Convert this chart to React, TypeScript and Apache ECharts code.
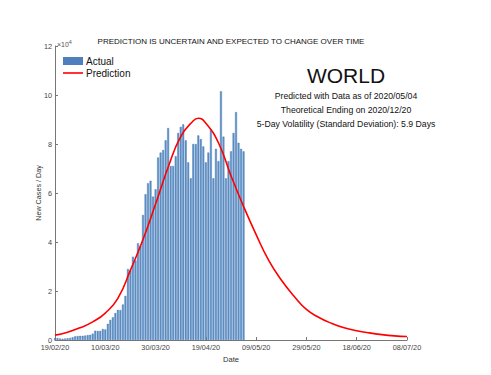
import React, { useEffect, useRef } from "react";
import * as echarts from "echarts";

// X axis: days since 19/02/20, one tick every 20 days
const xTickLabels = ["19/02/20", "10/03/20", "30/03/20", "19/04/20", "09/05/20", "29/05/20", "18/06/20", "08/07/20"];
const xTickStepDays = 20;
const yTickLabels = ["0", "2", "4", "6", "8", "10", "12"];

// Actual new cases per day (units of 10^4), day 0 = 19/02/20 ... day 75 = 04/05/20
const actualCasesE4 = [
  0.08, 0.08, 0.06, 0.05, 0.06, 0.07, 0.08, 0.11, 0.15, 0.16,
  0.17, 0.17, 0.18, 0.2, 0.21, 0.26, 0.38, 0.37, 0.37, 0.45,
  0.43, 0.66, 0.82, 0.93, 1.1, 1.23, 1.22, 1.45, 1.8, 2.9,
  2.85, 3.4, 3.25, 3.95, 3.85, 5.1, 5.95, 6.4, 6.5, 5.85,
  6.15, 7.45, 7.65, 7.75, 8.15, 8.65, 7.1, 7.1, 7.5, 8.45,
  8.7, 8.8, 8.15, 7.25, 6.6, 8.0, 8.0, 8.35, 8.2, 7.9,
  7.25, 7.65, 8.6, 6.6, 7.8, 7.3, 10.15, 8.3, 6.6, 7.3,
  7.7, 8.45, 9.3, 8.05, 7.8, 7.7,
];

// Prediction curve (days since 19/02/20, units of 10^4)
const predictionDays = [0, 5, 10, 15, 20, 25, 30, 35, 40, 45, 50, 55, 57, 60, 65, 70, 75, 80, 85, 90, 95, 100, 105, 110, 115, 120, 125, 130, 135, 140];
const predictionCasesE4 = [0.2, 0.32, 0.5, 0.74, 1.1, 1.7, 2.85, 4.1, 5.55, 7.05, 8.3, 8.95, 9.05, 8.85, 8.05, 6.7, 5.45, 4.3, 3.25, 2.45, 1.8, 1.25, 0.92, 0.68, 0.5, 0.38, 0.29, 0.22, 0.17, 0.14];

const titleText = "PREDICTION IS UNCERTAIN AND EXPECTED TO CHANGE OVER TIME";
const regionName = "WORLD";
const infoLines = [
  "Predicted with Data as of 2020/05/04",
  "Theoretical Ending on 2020/12/20",
  "5-Day Volatility (Standard Deviation): 5.9 Days",
];

const FONT = "'Liberation Sans', Arial, Helvetica, sans-serif";

export default function App() {
  const ref = useRef<HTMLDivElement>(null);

  useEffect(() => {
    if (!ref.current) return;
    const chart = echarts.init(ref.current, null, { renderer: "svg" });

    const barData = actualCasesE4.map((v, i) => [i, v]);
    const lineData = predictionDays.map((d, i) => [d, predictionCasesE4[i]]);
    const xMax = (xTickLabels.length - 1) * xTickStepDays;
    const yMax = Number(yTickLabels[yTickLabels.length - 1]);

    chart.setOption({
      animation: false,
      backgroundColor: "#ffffff",
      textStyle: { fontFamily: FONT },
      grid: { left: 55, right: 84, top: 46, bottom: 35 },
      legend: {
        orient: "vertical",
        left: 63,
        top: 56,
        padding: 0,
        itemWidth: 20,
        itemHeight: 8,
        itemGap: 2,
        symbolKeepAspect: true,
        textStyle: { fontSize: 10, color: "#111", fontFamily: FONT, padding: [0, 0, 0, -2] },
        data: [
          { name: "Actual", icon: "rect", itemStyle: { borderWidth: 0, color: "#4f7fbc" } },
          { name: "Prediction", icon: "path://M0,0 L20,0 L20,1.6 L0,1.6 Z", itemStyle: { color: "#ff0000", borderWidth: 0 } },
        ],
      },
      xAxis: {
        type: "value",
        min: 0,
        max: xMax,
        interval: xTickStepDays,
        name: "Date",
        nameLocation: "middle",
        nameGap: 15,
        nameMoveOverlap: false,
        nameTextStyle: { fontSize: 7.6, color: "#333", fontFamily: FONT },
        axisLine: { show: true, lineStyle: { color: "#777", width: 1 } },
        axisTick: { show: true, inside: true, length: 3, lineStyle: { color: "#777" } },
        axisLabel: {
          fontSize: 7.3,
          color: "#444",
          margin: 4,
          fontFamily: FONT,
          formatter: (v: number) => xTickLabels[Math.round(v / xTickStepDays)] ?? "",
        },
        splitLine: { show: false },
      },
      yAxis: {
        type: "value",
        min: 0,
        max: yMax,
        interval: 2,
        name: "New Cases / Day",
        nameLocation: "middle",
        nameGap: 13,
        nameMoveOverlap: false,
        nameRotate: 90,
        nameTextStyle: { fontSize: 7.2, color: "#333", fontFamily: FONT },
        axisLine: { show: true, lineStyle: { color: "#777", width: 1 } },
        axisTick: { show: true, inside: true, length: 3, lineStyle: { color: "#777" } },
        axisLabel: {
          fontSize: 7.3,
          color: "#444",
          margin: 3,
          fontFamily: FONT,
          formatter: (v: number) => yTickLabels[Math.round(v / 2)] ?? "",
        },
        splitLine: { show: false },
      },
      series: [
        {
          name: "Actual",
          type: "bar",
          data: barData,
          barWidth: 1.9,
          itemStyle: { color: "#6094cc", borderColor: "#3d6ea8", borderWidth: 0.4 },
          z: 2,
        },
        {
          name: "Prediction",
          type: "line",
          data: lineData,
          smooth: 0.5,
          symbol: "none",
          showSymbol: false,
          lineStyle: { color: "#ff0000", width: 1.6 },
          itemStyle: { color: "#ff0000" },
          z: 3,
        },
      ],
      graphic: [
        {
          type: "text",
          x: 231,
          y: 41,
          style: { text: titleText, fontSize: 8, fill: "#111", align: "center", verticalAlign: "middle", fontFamily: FONT },
        },
        {
          type: "text",
          x: 57,
          y: 44,
          style: {
            text: "{a|×10}{b|4}",
            verticalAlign: "middle",
            rich: {
              a: { fontSize: 7, fill: "#555", fontFamily: FONT },
              b: { fontSize: 5.5, fill: "#555", fontFamily: FONT, verticalAlign: "top", padding: [0, 0, 4, 0] },
            },
          },
        },
        {
          type: "text",
          x: 346,
          y: 75.5,
          style: { text: regionName, fontSize: 21, fill: "#111", align: "center", verticalAlign: "middle", fontFamily: FONT },
        },
        ...infoLines.map((t, i) => ({
          type: "text",
          x: 346,
          y: 95.7 + i * 14.3,
          style: { text: t, fontSize: 8.7, fill: "#111", align: "center", verticalAlign: "middle", fontFamily: FONT },
        })),
      ],
    });

    return () => chart.dispose();
  }, []);

  return <div ref={ref} style={{ position: "fixed", left: 0, top: 0, width: 491, height: 375 }} />;
}
